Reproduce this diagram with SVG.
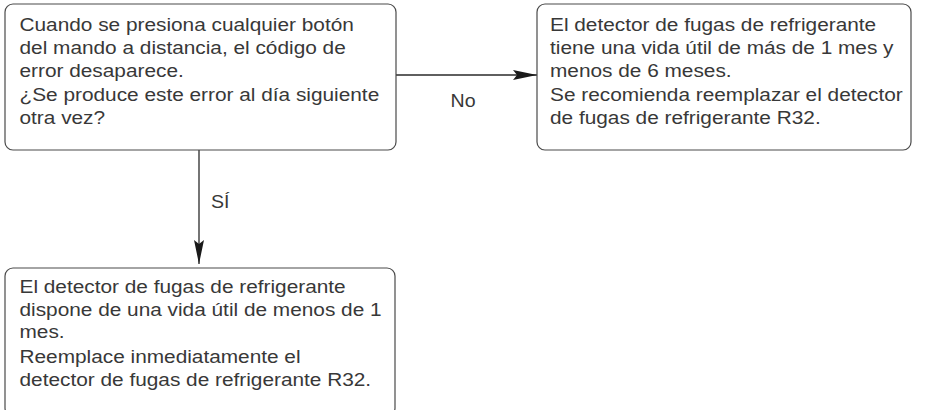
<svg xmlns="http://www.w3.org/2000/svg" width="930" height="410" viewBox="0 0 930 410">
<style>
.box{fill:#fff;stroke:#4a4a4a;stroke-width:1.2}
.t{font-family:"Liberation Sans",Arial,sans-serif;font-size:17.5px;fill:#383838}
.c{stroke:#2a2a2a;stroke-width:1.3;fill:none}
</style>
<defs>
<marker id="ah" viewBox="0 0 24 10" refX="24" refY="5" markerWidth="24" markerHeight="10" markerUnits="userSpaceOnUse" orient="auto">
<path d="M0,0 L24,5 L0,10 L4,5 Z" fill="#1a1a1a"/>
</marker>
</defs>
<g id="connectors">
<line class="c" x1="396" y1="75" x2="537" y2="75" marker-end="url(#ah)"/>
<line class="c" x1="199" y1="150" x2="199" y2="264" marker-end="url(#ah)"/>
<g transform="translate(463,0) scale(1.12,1)"><text class="t" x="0" y="107" text-anchor="middle">No</text></g>
<g transform="translate(211,0) scale(1.12,1)"><text class="t" x="0" y="208">SÍ</text></g>
</g>
<g id="n1">
<rect class="box" x="5" y="4" width="391" height="146" rx="8"/>
<g transform="translate(19.5,0) scale(1.19,1)">
<text class="t" x="0" y="30.7">Cuando se presiona cualquier botón</text>
<text class="t" x="0" y="53.7">del mando a distancia, el código de</text>
<text class="t" x="0" y="76.7">error desaparece.</text>
<text class="t" x="0" y="101.5">¿Se produce este error al día siguiente</text>
<text class="t" x="0" y="124.5">otra vez?</text>
</g>
</g>
<g id="n2">
<rect class="box" x="537" y="4" width="374" height="146" rx="8"/>
<g transform="translate(550,0) scale(1.19,1)">
<text class="t" x="0" y="30.7">El detector de fugas de refrigerante</text>
<text class="t" x="0" y="53.7">tiene una vida útil de más de 1 mes y</text>
<text class="t" x="0" y="76.7">menos de 6 meses.</text>
<text class="t" x="0" y="101.5">Se recomienda reemplazar el detector</text>
<text class="t" x="0" y="124.5">de fugas de refrigerante R32.</text>
</g>
</g>
<g id="n3">
<rect class="box" x="5" y="268" width="390" height="148" rx="8"/>
<g transform="translate(19.5,0) scale(1.19,1)">
<text class="t" x="0" y="293.3">El detector de fugas de refrigerante</text>
<text class="t" x="0" y="316">dispone de una vida útil de menos de 1</text>
<text class="t" x="0" y="338.5">mes.</text>
<text class="t" x="0" y="363.3">Reemplace inmediatamente el</text>
<text class="t" x="0" y="386">detector de fugas de refrigerante R32.</text>
</g>
</g>
</svg>
